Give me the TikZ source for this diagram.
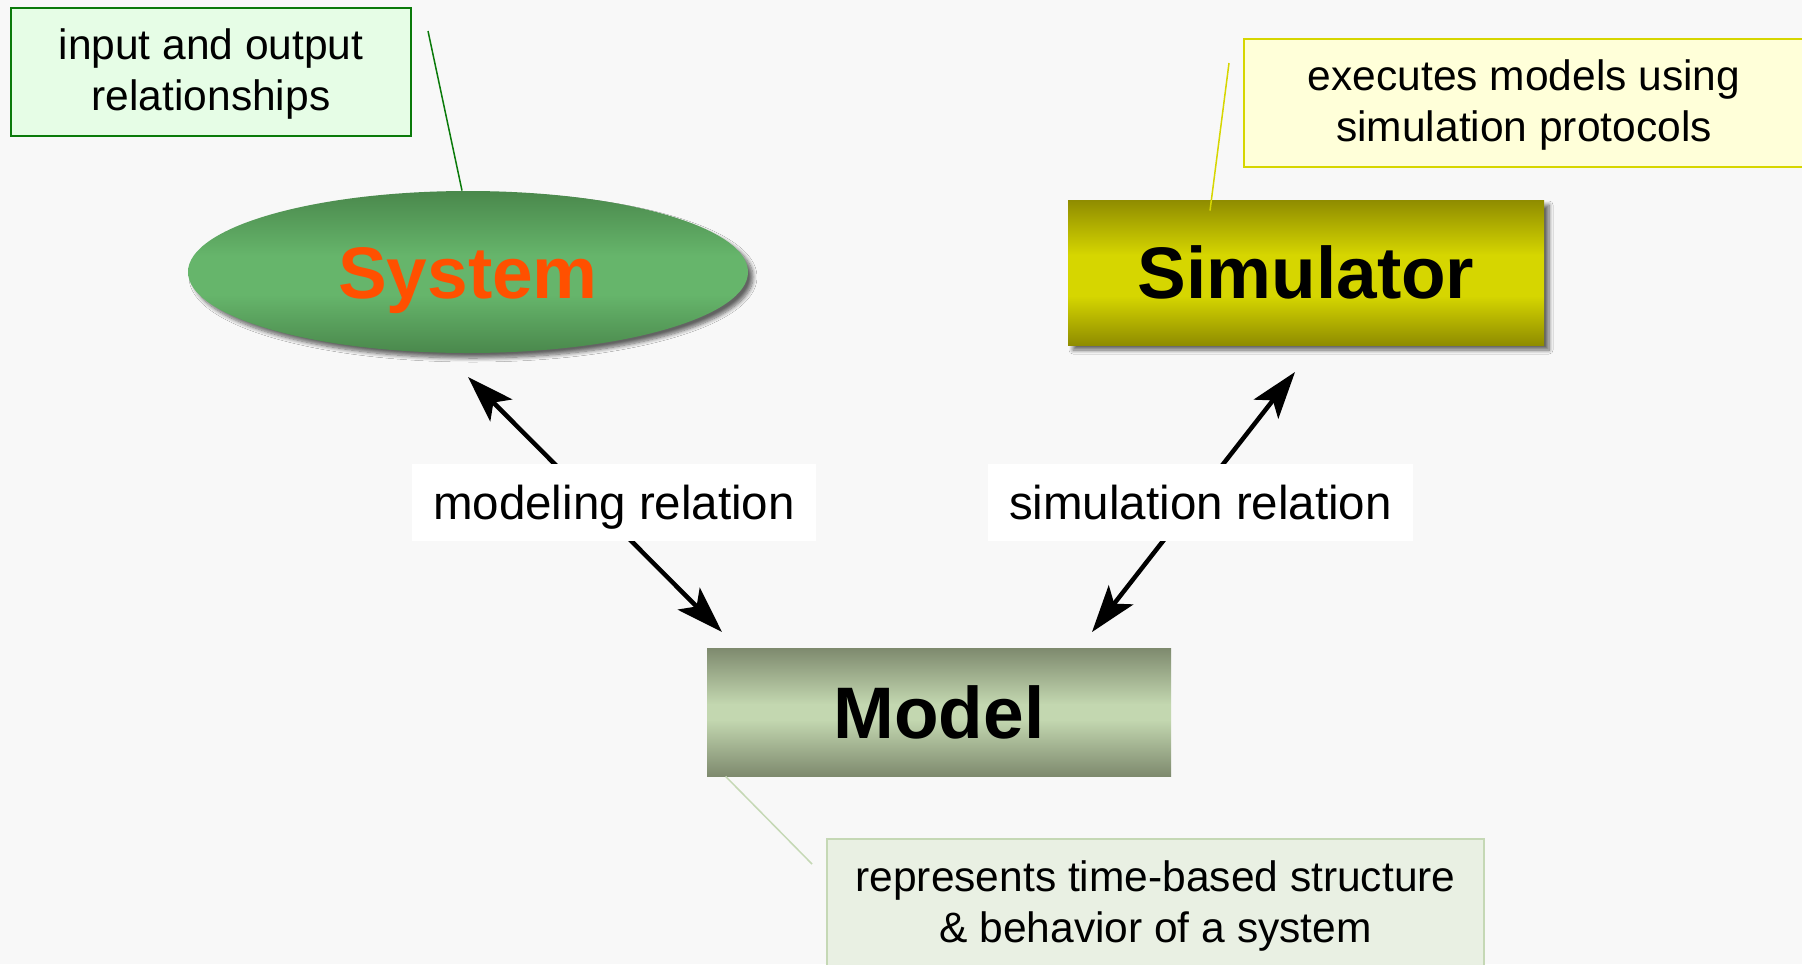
\documentclass[tikz,border=0pt]{standalone}
\usepackage{fontspec}
\setmainfont{Liberation Sans}
\usetikzlibrary{arrows.meta,shapes.geometric,shadows.blur}

% palette
\definecolor{bg}{HTML}{F8F8F8}
\definecolor{sysdark}{HTML}{4A884C}
\definecolor{syslight}{HTML}{66B56B}
\definecolor{sysred}{HTML}{FF5000}
\definecolor{simdark}{HTML}{8F8C00}
\definecolor{simlight}{HTML}{D6D600}
\definecolor{moddark}{HTML}{7E8A6E}
\definecolor{modlight}{HTML}{C3D7B0}
\definecolor{iogreen}{HTML}{0A7A0A}
\definecolor{iofill}{HTML}{E6FDE6}
\definecolor{execborder}{HTML}{D6D600}
\definecolor{execfill}{HTML}{FFFFD9}
\definecolor{repborder}{HTML}{C5D8B5}
\definecolor{repfill}{HTML}{E9F0E3}

% vertical gradients: dark edges, light centre band
\pgfdeclareverticalshading{sysshade}{100bp}{color(0bp)=(sysdark); color(25bp)=(sysdark); color(43bp)=(syslight); color(55bp)=(syslight); color(75bp)=(sysdark); color(100bp)=(sysdark)}
\pgfdeclareverticalshading{simshade}{100bp}{color(0bp)=(simdark); color(25bp)=(simdark); color(42bp)=(simlight); color(56bp)=(simlight); color(75bp)=(simdark); color(100bp)=(simdark)}
\pgfdeclareverticalshading{modshade}{100bp}{color(0bp)=(moddark); color(25bp)=(moddark); color(47bp)=(modlight); color(53bp)=(modlight); color(75bp)=(moddark); color(100bp)=(moddark)}

\newcommand\noteft{\fontsize{21.25}{25.5}\selectfont}
\newcommand\relft{\fontsize{23.75}{28.5}\selectfont}
\newcommand\bigft{\fontsize{36.5}{43.8}\selectfont\bfseries}

\tikzset{
  mainbox/.style={inner sep=0pt, font=\bigft, text height=26.1pt, text depth=0pt},
  softshadow/.style={blur shadow={shadow xshift=2.5pt, shadow yshift=-2.5pt,
      shadow blur radius=2pt, shadow blur steps=8, shadow opacity=60}},
  % two-line notes: the box baseline is the last line
  note/.style={draw, line width=1pt, align=center, font=\noteft, inner sep=0pt,
      text height=40.5pt, text depth=2.5pt},
  rel/.style={fill=white, inner sep=0pt, minimum height=38.5pt, font=\relft,
      text height=17pt, text depth=0pt},
  relarrow/.style={{Stealth[length=23.5pt,width=15.5pt,inset=5.5pt]}-{Stealth[length=23.5pt,width=15.5pt,inset=5.5pt]},
      line width=2.25pt},
  callout/.style={line width=0.75pt}
}

\begin{document}
\begin{tikzpicture}[x=0.5pt, y=-0.5pt]
  \useasboundingbox (0,0) rectangle (1802,964);
  \clip (0,0) rectangle (1802,964);
  \fill[bg] (0,0) rectangle (1802,964);

  % the three main blocks
  \node[mainbox, ellipse, minimum width=280pt, minimum height=81pt,
        shading=sysshade, softshadow, text=sysred] (sys) at (468,272) {System};
  \node[mainbox, rectangle, minimum width=238pt, minimum height=72.5pt,
        shading=simshade, softshadow] (sim) at (1306,272.5) {Simulator};
  \node[mainbox, rectangle, minimum width=232pt, minimum height=64pt,
        shading=modshade] (mod) at (939,712) {Model};

  % explanatory notes
  \node[note, draw=iogreen, fill=iofill, minimum width=200pt, minimum height=64pt]
        (io) at (211,72) {input and output\\relationships};
  \node[note, draw=execborder, fill=execfill, minimum width=280pt, minimum height=63.7pt]
        (exec) at (1524,103) {executes models using\\simulation protocols};
  \node[note, draw=repborder, fill=repfill, minimum width=328.5pt, minimum height=65pt]
        (rep) at (1155.5,904) {represents time-based structure\\\& behavior of a system};

  % relation arrows
  \coordinate (sysTip) at (468,377);
  \coordinate (modTipL) at (722,632);
  \coordinate (simTip) at (1295,372);
  \coordinate (modTipR) at (1092,632);
  \draw[relarrow] (sysTip) -- (modTipL);
  \draw[relarrow] (simTip) -- (modTipR);

  \node[rel, minimum width=202pt] (mrel) at (614,502.5) {modeling relation};
  \node[rel, minimum width=212.5pt] (srel) at (1200.5,502.5) {simulation relation};

  % callout lines
  \coordinate (ioEnd) at (428,31);
  \draw[callout, iogreen] (ioEnd) -- ([xshift=-3pt]sys.north);
  \coordinate (execEnd) at (1229,63);
  \draw[callout, execborder] (execEnd) -- ([xshift=-48pt, yshift=-5.5pt]sim.north);
  \coordinate (repEnd) at (812,864);
  \draw[callout, repborder] ([xshift=9.5pt]mod.south west) -- (repEnd);
\end{tikzpicture}
\end{document}
